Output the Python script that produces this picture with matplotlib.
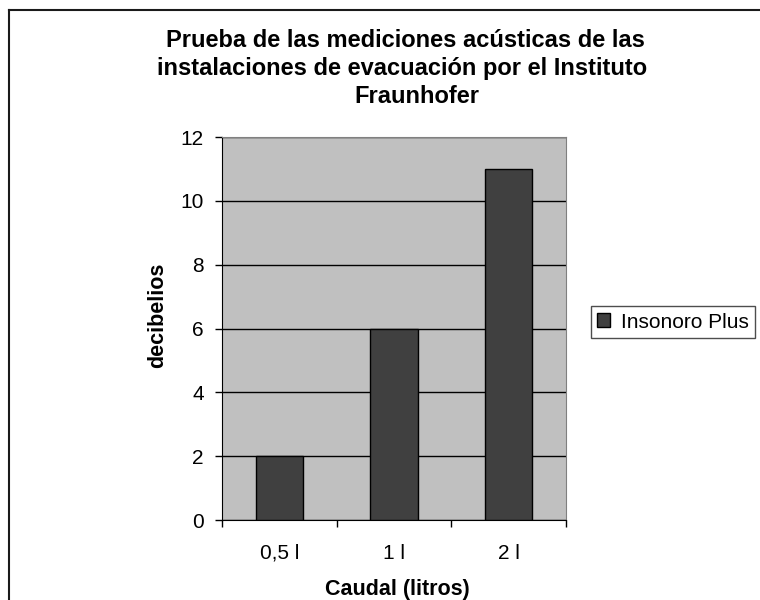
import matplotlib.pyplot as plt
from matplotlib.lines import Line2D

plt.rcParams['font.family'] = ['Liberation Sans', 'DejaVu Sans']

categories = ["0,5 l", "1 l", "2 l"]
values = [2, 6, 11]
series_name = "Insonoro Plus"
title_lines = ["Prueba de las mediciones acústicas de las",
               "instalaciones de evacuación por el Instituto",
               "Fraunhofer"]

W, H = 760, 600
fig = plt.figure(figsize=(W / 100, H / 100), dpi=100)


def fx(px):
    return px / W


def fy(py):
    return 1 - py / H


# marco exterior (solo visible arriba y a la izquierda)
fig.add_artist(Line2D([fx(9), fx(9)], [0, fy(10)], color="#1a1a1a", linewidth=1.5,
                      transform=fig.transFigure))
fig.add_artist(Line2D([fx(9), 1], [fy(10), fy(10)], color="#1a1a1a", linewidth=1.5,
                      transform=fig.transFigure))

ax = fig.add_axes([fx(222), fy(520), fx(566 - 222), (520 - 137) / H])
ax.set_facecolor("#C0C0C0")

x = range(len(categories))
ax.bar(x, values, width=0.41, color="#404040", edgecolor="black", linewidth=1,
       label=series_name, zorder=3)

ax.set_xlim(-0.5, len(categories) - 0.5)
ax.set_ylim(0, 12)
ax.set_yticks(range(0, 13, 2))
ax.yaxis.grid(True, color="black", linewidth=1, zorder=1)
ax.set_axisbelow(True)

# marcas entre categorías, etiquetas centradas
ax.set_xticks([i - 0.5 for i in range(len(categories) + 1)])
ax.set_xticklabels([])
ax.set_xticks(list(x), minor=True)
ax.set_xticklabels(categories, minor=True, fontsize=15)
ax.tick_params(axis="x", which="minor", length=0, pad=17)
ax.tick_params(axis="x", which="major", length=5, width=1)
ax.tick_params(axis="y", length=5, width=1, labelsize=15, pad=8)

for side in ["top", "right"]:
    ax.spines[side].set_color("#808080")
for side in ["left", "bottom"]:
    ax.spines[side].set_color("black")

fig.text(fx(397), fy(595), "Caudal (litros)", ha="center", va="baseline",
         fontsize=15.5, fontweight="bold")
fig.text(fx(158), fy(315), "decibelios", ha="center", va="center", rotation=90,
         fontsize=15.5, fontweight="bold")

for line, cx, base in zip(title_lines, [405.5, 402.5, 416.5], [47, 75, 103]):
    fig.text(fx(cx), fy(base), line, ha="center", va="baseline", fontsize=17,
             fontweight="bold")

leg = ax.legend(loc="center left", bbox_to_anchor=(fx(591), fy(322)),
                bbox_transform=fig.transFigure, fontsize=15, frameon=True,
                fancybox=False, edgecolor="#202020", handlelength=0.62,
                handleheight=0.62, handletextpad=0.5, borderpad=0.3,
                borderaxespad=0)
leg.get_frame().set_linewidth(1)

fig.savefig("out.png", dpi=100)
